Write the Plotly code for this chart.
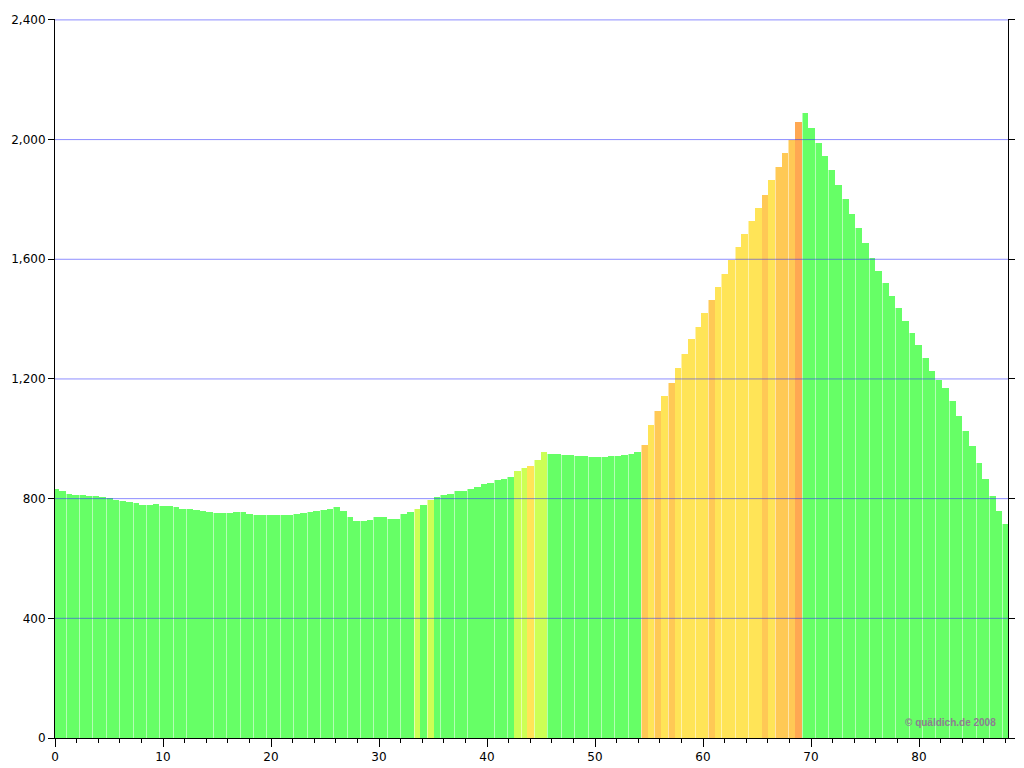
import plotly.graph_objects as go

# Elevation (m) of each profile bar, read left to right from the reference
elevation_m = [
    833, 826, 817, 812, 811, 808, 808, 806, 802, 797,
    793, 789, 784, 779, 779, 781, 777, 774, 771, 767,
    764, 761, 758, 755, 752, 752, 753, 755, 754, 750,
    746, 744, 744, 744, 744, 744, 747, 751, 755, 759,
    763, 767, 771, 760, 737, 724, 724, 729, 740, 739,
    731, 733, 748, 755, 765, 780, 797, 805, 811, 815,
    825, 824, 831, 840, 848, 853, 862, 866, 873, 892,
    902, 910, 930, 955, 948, 948, 946, 946, 942, 941,
    939, 939, 938, 941, 944, 947, 949, 956, 980, 1045,
    1092, 1143, 1188, 1235, 1284, 1332, 1374, 1421, 1464, 1507,
    1551, 1598, 1642, 1686, 1729, 1773, 1815, 1864, 1910, 1956,
    2000, 2060, 2088, 2040, 1990, 1945, 1897, 1848, 1800, 1752,
    1705, 1656, 1605, 1562, 1520, 1478, 1436, 1395, 1353, 1312,
    1270, 1225, 1195, 1170, 1125, 1075, 1025, 975, 920, 865,
    810, 760, 715,
]

# Gradient class of each bar (0 = flat/descent ... 4 = steep)
grade_class = (
    "0000000000" "0000000000" "0000000000" "0000000000" "0000000000" "0000"
    "101"
    "000000000000"
    "11211"
    "00000000000000"
    "323232222232222222323334"
    "0000000000" "0000000000" "0000000000" "0"
)

grade_colors = {
    "0": "#66ff66",
    "1": "#ccff55",
    "2": "#ffe457",
    "3": "#ffc955",
    "4": "#ffa852",
}

y_ticks = [0, 400, 800, 1200, 1600, 2000, 2400]
x_ticks = [0, 10, 20, 30, 40, 50, 60, 70, 80]
x_max_km = 88.24
y_max_m = 2403

# bar layout (km)
first_gap_km = 0.99
bar_step_km = 0.6195
seam_km = 0.09

n = len(elevation_m)
centers, colors = [], []
seam_x, seam_y = [], []
for j in range(n):
    left = first_gap_km + bar_step_km * (j - 2)
    centers.append(left + bar_step_km / 2)
    cls = grade_class[j] if j < len(grade_class) else "0"
    colors.append(grade_colors[cls])
    if j % 2 == 0 and left > 0:
        seam_x.append(left + seam_km / 2)
        seam_y.append(elevation_m[j])

fig = go.Figure()
fig.add_trace(go.Bar(
    x=centers, y=elevation_m, width=[bar_step_km] * n,
    marker=dict(color=colors, line=dict(width=0)),
    hoverinfo="skip", showlegend=False,
))
# pale seams between bar groups
fig.add_trace(go.Bar(
    x=seam_x, y=seam_y, width=[seam_km] * len(seam_x),
    marker=dict(color="rgba(255,255,255,0.5)", line=dict(width=0)),
    hoverinfo="skip", showlegend=False,
))

# grid lines drawn over the bars
gx, gy = [], []
for v in y_ticks[1:]:
    gx += [0, x_max_km, None]
    gy += [v, v, None]
fig.add_trace(go.Scatter(
    x=gx, y=gy, mode="lines", cliponaxis=False,
    line=dict(color="rgba(50,50,255,0.55)", width=1),
    hoverinfo="skip", showlegend=False,
))

fig.add_annotation(
    text="© quäldich.de 2008", xref="paper", yref="paper",
    x=0.99, y=0.022, xanchor="right", yanchor="middle", showarrow=False,
    font=dict(family="Liberation Sans", size=10, color="#8c8090", weight="bold"),
)

# page body adds an 8px offset, so the figure is sized to land the plot
# area on the reference's pixels
fig.update_layout(
    width=1016, height=760,
    margin=dict(l=47, r=16, t=11, b=30),
    paper_bgcolor="white", plot_bgcolor="white",
    font=dict(family="DejaVu Sans", size=12, color="black"),
    barmode="overlay", bargap=0,
)
fig.update_xaxes(
    range=[0, x_max_km], tickvals=x_ticks, showgrid=False, zeroline=False,
    showline=True, linecolor="black", linewidth=1, automargin=False,
    ticks="outside", ticklen=8, tickcolor="black",
    minor=dict(dtick=2, ticks="outside", ticklen=4, tickcolor="black", showgrid=False),
)
fig.update_yaxes(
    range=[0, y_max_m], tickvals=y_ticks, tickformat=",d", showgrid=False, zeroline=False,
    showline=True, linecolor="black", linewidth=1, mirror="ticks", automargin=False,
    ticks="outside", ticklen=6, tickcolor="black",
)

fig.write_html("out.html")
